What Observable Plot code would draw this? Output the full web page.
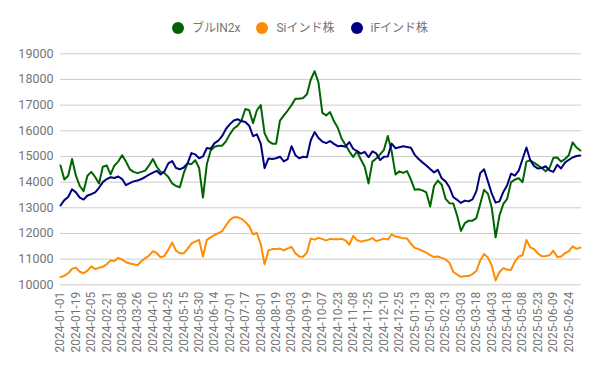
<!DOCTYPE html>
<html>
<head>
<meta charset="utf-8">
<script src="https://cdn.jsdelivr.net/npm/d3@7"></script>
<script src="https://cdn.jsdelivr.net/npm/@observablehq/plot@0.6"></script>
<style>
  html, body { margin: 0; padding: 0; background: #fff; }
  body { width: 600px; height: 371px; overflow: hidden; font-family: Roboto, "Noto Sans CJK JP", sans-serif; }
  #legend { height: 44px; display: flex; justify-content: center; align-items: flex-start; padding-top: 0; box-sizing: border-box; }
  #legend .inner { display: flex; gap: 16px; margin-top: 20px; font-size: 12px; color: #757575; line-height: 16px; }
  #legend .item { display: flex; align-items: center; }
  #legend .dot { width: 12px; height: 12px; border-radius: 50%; margin-right: 8px; }
</style>
</head>
<body>
<div id="legend"><div class="inner"></div></div>
<div id="chart"></div>
<script>
const seriesNames = ["ブルIN2x", "Siインド株", "iFインド株"];
const seriesColors = ["#006400", "#ff8c00", "#000080"];

const tickLabels = [
  "2024-01-01","2024-01-19","2024-02-05","2024-02-21","2024-03-08","2024-03-26",
  "2024-04-10","2024-04-25","2024-05-15","2024-05-30","2024-06-14","2024-07-01",
  "2024-07-17","2024-08-01","2024-08-19","2024-09-03","2024-09-19","2024-10-07",
  "2024-10-23","2024-11-08","2024-11-25","2024-12-10","2024-12-25","2025-01-13",
  "2025-01-28","2025-02-13","2025-03-03","2025-03-18","2025-04-03","2025-04-18",
  "2025-05-08","2025-05-23","2025-06-09","2025-06-24"
];
const samplesPerTick = 4;

const yTicks = [10000, 11000, 12000, 13000, 14000, 15000, 16000, 17000, 18000, 19000];

const bullIN2x = [
  14650,14100,14250,14900,14250,13850,13650,14250,14400,14200,
  13950,14600,14650,14300,14650,14800,15050,14800,14500,14400,
  14350,14400,14450,14650,14900,14600,14400,14350,14200,13950,
  13850,13800,14350,14730,14700,14850,14550,13400,14700,15230,
  15380,15420,15420,15600,15870,16090,16200,16400,16850,16800,
  16300,16800,17000,15900,15600,15500,15500,16400,16600,16790,
  17000,17250,17250,17280,17420,18000,18320,17880,16700,16600,
  16730,16380,16120,15700,15450,15200,14980,15200,14880,14600,
  13950,14800,14920,15080,15260,15800,15200,14300,14420,14360,
  14430,14100,13700,13720,13680,13600,13050,13850,14060,13900,
  13350,13180,13170,12700,12100,12400,12500,12500,12600,13150,
  13700,13550,13000,11850,12700,13150,13350,14000,14100,14150,
  14000,14800,14850,14750,14650,14550,14420,14550,14950,14960,
  14800,14900,15050,15550,15350,15230
];

const siIndia = [
  10300,10350,10450,10620,10670,10510,10450,10550,10720,10610,
  10660,10700,10800,10950,10930,11050,10980,10880,10830,10800,
  10760,10920,11030,11140,11310,11230,11070,11120,11370,11650,
  11330,11230,11230,11400,11610,11680,11750,11100,11750,11850,
  11940,12010,12090,12320,12530,12630,12630,12570,12450,12280,
  11970,12020,11580,10800,11340,11390,11390,11410,11340,11420,
  11470,11230,11100,11090,11260,11800,11760,11830,11780,11730,
  11790,11770,11770,11790,11730,11560,11900,11740,11680,11720,
  11750,11820,11700,11750,11800,11760,11970,11880,11850,11810,
  11800,11600,11440,11390,11320,11250,11160,11080,11100,11050,
  10990,10860,10500,10400,10310,10330,10340,10420,10540,10950,
  11200,11060,10750,10170,10500,10650,10590,10580,10900,11100,
  11150,11750,11460,11390,11220,11110,11120,11150,11330,11080,
  11100,11230,11300,11500,11400,11450
];

const ifIndia = [
  13090,13300,13420,13720,13600,13400,13320,13480,13530,13600,
  13780,14000,14120,14190,14160,14220,14120,13880,13960,14030,
  14060,14120,14200,14290,14370,14440,14300,14420,14730,14820,
  14550,14500,14570,14730,15130,15080,14930,15000,15330,15300,
  15520,15620,15800,16080,16260,16400,16450,16380,16340,16200,
  15790,15860,15500,14550,14920,14900,14930,14990,14810,14900,
  15400,15050,14930,14990,14970,15630,15950,15720,15580,15520,
  15600,15490,15400,15420,15380,15560,15300,15210,15110,15180,
  14970,15200,15120,14860,14990,15000,15500,15320,15360,15400,
  15370,15340,15060,14900,14770,14650,14510,14380,14480,14150,
  14030,13800,13420,13310,13190,13280,13250,13330,13650,14350,
  14500,14030,13550,13200,13250,13620,13880,14330,14250,14450,
  14900,15350,14850,14620,14530,14550,14620,14460,14400,14680,
  14530,14760,14870,14960,15020,15040
];

const seriesValues = [bullIN2x, siIndia, ifIndia];

// legend
const inner = document.querySelector("#legend .inner");
seriesNames.forEach((name, k) => {
  const item = document.createElement("div");
  item.className = "item";
  const dot = document.createElement("span");
  dot.className = "dot";
  dot.style.background = seriesColors[k];
  const label = document.createElement("span");
  label.textContent = name;
  item.appendChild(dot);
  item.appendChild(label);
  inner.appendChild(item);
});

const rows = seriesValues.map((vals, k) => vals.map((v, i) => ({ i, v, s: seriesNames[k] })));
const tickIdx = tickLabels.map((_, k) => k * samplesPerTick);
const nSamples = bullIN2x.length;

const chart = Plot.plot({
  width: 600,
  height: 327,
  marginTop: 9.3,
  marginBottom: 86.7,
  marginLeft: 60,
  marginRight: 19,
  style: { color: "#757575", fontFamily: 'Roboto, "Noto Sans CJK JP", sans-serif', fontSize: "12px", background: "#fff" },
  x: { domain: [0, nSamples - 1 + 0.3], label: null },
  y: { domain: [10000, 19000], label: null },
  marks: [
    Plot.ruleY(yTicks, { stroke: "#cccccc", strokeWidth: 1 }),
    Plot.axisY(yTicks, { tickSize: 0, tickPadding: 7, tickFormat: d => String(d), fontSize: 12.5, label: null }),
    Plot.axisX(tickIdx, { tickSize: 0, tickPadding: 7, tickRotate: -90, tickFormat: d => tickLabels[d / samplesPerTick], fontSize: 12, label: null }),
    ...rows.map((r, k) => Plot.line(r, { x: "i", y: "v", stroke: seriesColors[k], strokeWidth: 2, strokeLinejoin: "round" }))
  ]
});
document.getElementById("chart").appendChild(chart);
</script>
</body>
</html>
